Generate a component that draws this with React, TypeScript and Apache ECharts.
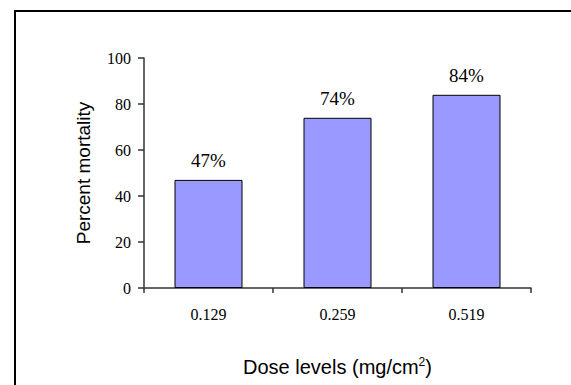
import React, { useEffect, useRef } from "react";
import * as echarts from "echarts";

const categories = ["0.129", "0.259", "0.519"];
const mortality = [47, 74, 84];
const yTicks = { min: 0, max: 100, interval: 20 };

export default function App() {
  const ref = useRef<HTMLDivElement>(null);
  useEffect(() => {
    const chart = echarts.init(ref.current!, null, { renderer: "svg" });
    const serif = "'Liberation Serif', 'Times New Roman', serif";
    const sans = "'Liberation Sans', Arial, sans-serif";
    chart.setOption({
      animation: false,
      backgroundColor: "#ffffff",
      grid: { left: 144, right: 40, top: 58, bottom: 97, containLabel: false },
      graphic: [
        {
          type: "rect",
          shape: { x: 15, y: 11, width: 620, height: 420 },
          style: { fill: "none", stroke: "#000000", lineWidth: 2 },
          z: 100,
        },
      ],
      xAxis: {
        type: "category",
        data: categories,
        name: "Dose levels (mg/cm{sup|2})",
        nameLocation: "middle",
        nameGap: 68,
        nameTextStyle: {
          fontFamily: sans,
          fontSize: 20,
          color: "#000",
          rich: {
            sup: { fontFamily: sans, fontSize: 12, color: "#000", padding: [0, 0, 9, 0] },
          },
        },
        axisLine: { lineStyle: { color: "#333", width: 1.5 } },
        axisTick: { show: true, length: 5, lineStyle: { color: "#333", width: 1.5 } },
        axisLabel: { fontFamily: serif, fontSize: 16, color: "#000", margin: 18 },
        splitLine: { show: false },
      },
      yAxis: {
        type: "value",
        min: yTicks.min,
        max: yTicks.max,
        interval: yTicks.interval,
        name: "Percent mortality",
        nameLocation: "middle",
        nameGap: 51,
        nameTextStyle: { fontFamily: sans, fontSize: 19, color: "#000" },
        axisLine: { show: true, lineStyle: { color: "#333", width: 1.5 } },
        axisTick: { show: true, length: 6, lineStyle: { color: "#333", width: 1.5 } },
        axisLabel: { fontFamily: serif, fontSize: 16, color: "#000", margin: 13 },
        splitLine: { show: false },
      },
      series: [
        {
          type: "bar",
          data: mortality,
          barWidth: 68,
          itemStyle: { color: "#9999ff", borderColor: "#000", borderWidth: 1 },
          label: {
            show: true,
            position: "top",
            distance: 10,
            formatter: "{c}%",
            fontFamily: serif,
            fontSize: 19,
            color: "#000",
          },
        },
      ],
    });
    return () => chart.dispose();
  }, []);
  return (
    <div
      ref={ref}
      style={{ position: "absolute", left: 0, top: 0, width: 571, height: 385 }}
    />
  );
}
